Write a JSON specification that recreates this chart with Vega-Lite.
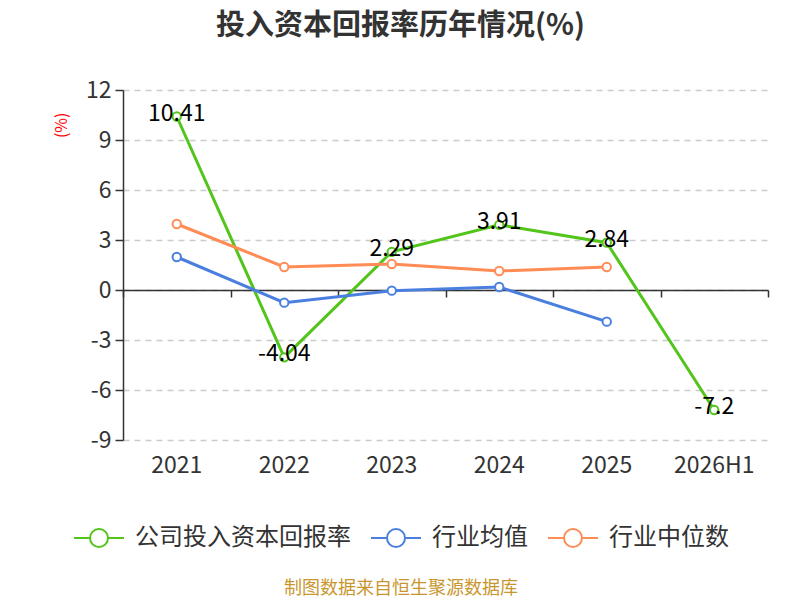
{
  "$schema": "https://vega.github.io/schema/vega-lite/v6.json",
  "autosize": {"type": "none"},
  "width": 645,
  "height": 350,
  "padding": {"left": 123, "top": 90, "right": 32, "bottom": 160},
  "background": "white",
  "title": {
    "text": "投入资本回报率历年情况(%)",
    "fontSize": 29,
    "fontWeight": "bold",
    "color": "#333333",
    "font": "Noto Sans CJK SC",
    "anchor": "middle",
    "dx": -45,
    "offset": 38
  },
  "data": {
    "values": [
      {"period": "2021", "series": "公司投入资本回报率", "value": 10.41},
      {"period": "2022", "series": "公司投入资本回报率", "value": -4.04},
      {"period": "2023", "series": "公司投入资本回报率", "value": 2.29},
      {"period": "2024", "series": "公司投入资本回报率", "value": 3.91},
      {"period": "2025", "series": "公司投入资本回报率", "value": 2.84},
      {"period": "2026H1", "series": "公司投入资本回报率", "value": -7.2},
      {"period": "2021", "series": "行业均值", "value": 1.98},
      {"period": "2022", "series": "行业均值", "value": -0.76},
      {"period": "2023", "series": "行业均值", "value": -0.04},
      {"period": "2024", "series": "行业均值", "value": 0.18},
      {"period": "2025", "series": "行业均值", "value": -1.9},
      {"period": "2021", "series": "行业中位数", "value": 3.96},
      {"period": "2022", "series": "行业中位数", "value": 1.38},
      {"period": "2023", "series": "行业中位数", "value": 1.56},
      {"period": "2024", "series": "行业中位数", "value": 1.14},
      {"period": "2025", "series": "行业中位数", "value": 1.38}
    ]
  },
  "encoding": {
    "x": {
      "field": "period",
      "type": "nominal",
      "sort": null,
      "scale": {"type": "band", "paddingInner": 0, "paddingOuter": 0},
      "bandPosition": 0.5,
      "axis": null
    },
    "y": {
      "field": "value",
      "type": "quantitative",
      "scale": {"domain": [-9, 12], "nice": false, "zero": false},
      "axis": {
        "values": [-9, -6, -3, 0, 3, 6, 9, 12],
        "title": "(%)",
        "titleColor": "red",
        "titleFont": "Noto Sans CJK SC",
        "titleFontSize": 16,
        "titleFontWeight": "normal",
        "titleAnchor": "end",
        "titleY": 22,
        "titleX": -54,
        "labelFont": "Noto Sans CJK SC",
        "labelFontSize": 23,
        "labelColor": "#333333",
        "labelPadding": 4,
        "domainColor": "#333333",
        "domainWidth": 1.5,
        "tickColor": "#333333",
        "tickSize": 8,
        "tickWidth": 1.5,
        "grid": true,
        "gridColor": "#cccccc",
        "gridDash": [6, 5],
        "gridWidth": 1.3
      }
    },
    "color": {
      "field": "series",
      "type": "nominal",
      "sort": null,
      "scale": {
        "domain": ["公司投入资本回报率", "行业均值", "行业中位数"],
        "range": ["#52c41a", "#4a7fe0", "#ff8c55"]
      },
      "legend": {
        "orient": "none",
        "legendX": -50,
        "legendY": 422,
        "direction": "horizontal",
        "title": "制图数据来自恒生聚源数据库",
        "titleOrient": "bottom",
        "titleAnchor": "middle",
        "titleColor": "#c8962f",
        "titleFont": "Noto Sans CJK SC",
        "titleFontSize": 18,
        "titleFontWeight": "normal",
        "titlePadding": 29,
        "titleLimit": 600,
        "symbolType": "M-1,0H-0.36M0.36,0H1M-0.36,0A0.36,0.36 0 1,0 0.36,0A0.36,0.36 0 1,0 -0.36,0",
        "symbolSize": 2500,
        "symbolStrokeWidth": 2,
        "labelFont": "Noto Sans CJK SC",
        "labelFontSize": 24,
        "labelColor": "#333333",
        "labelOffset": 10,
        "labelLimit": 400,
        "columnPadding": 16,
        "encode": {
          "symbols": {
            "update": {
              "fill": {"value": "white"},
              "stroke": {"scale": "color", "field": "value"},
              "strokeWidth": {"value": 2}
            }
          }
        }
      }
    }
  },
  "layer": [
    {
      "mark": {"type": "line", "strokeWidth": 3},
      "encoding": {
        "x": {
          "field": "period",
          "type": "nominal",
          "sort": null,
          "bandPosition": 0.5,
          "axis": {
            "orient": "bottom",
            "title": null,
            "domain": false,
            "ticks": false,
            "grid": false,
            "labelAngle": 0,
            "labelFont": "Noto Sans CJK SC",
            "labelFontSize": 23,
            "labelColor": "#333333",
            "labelPadding": 14
          }
        }
      }
    },
    {
      "mark": {"type": "point", "filled": false, "fill": "white", "size": 70, "strokeWidth": 2, "opacity": 1}
    },
    {
      "transform": [{"filter": "datum.series === '公司投入资本回报率'"}],
      "mark": {"type": "text", "fontSize": 23, "font": "Noto Sans CJK SC", "dy": -3},
      "encoding": {
        "text": {"field": "value", "type": "quantitative"},
        "color": {"value": "black"},
        "x": {
          "field": "period",
          "type": "nominal",
          "sort": null,
          "bandPosition": 0.5,
          "axis": {
            "orient": "top",
            "offset": -200,
            "title": null,
            "labels": false,
            "grid": false,
            "domain": true,
            "domainColor": "#333333",
            "domainWidth": 1.5,
            "ticks": true,
            "tickBand": "extent",
            "tickSize": -7,
            "tickColor": "#333333",
            "tickWidth": 1.5
          }
        }
      }
    }
  ],
  "resolve": {"axis": {"x": "independent"}},
  "config": {
    "view": {"stroke": null},
    "font": "Noto Sans CJK SC",
    "locale": {
      "number": {
        "decimal": ".",
        "thousands": ",",
        "grouping": [3],
        "currency": ["", ""],
        "minus": "-"
      }
    }
  }
}
